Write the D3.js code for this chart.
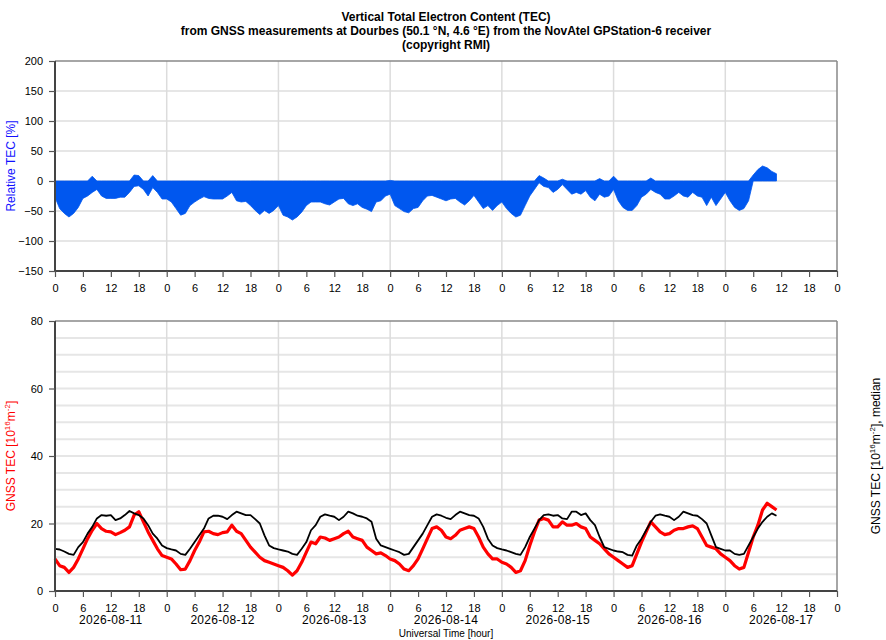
<!DOCTYPE html>
<html>
<head>
<meta charset="utf-8">
<script src="https://cdn.jsdelivr.net/npm/d3@7"></script>
<style>
  body { margin: 0; background: #fff; }
  svg { display: block; font-family: "Liberation Sans", Arial, sans-serif; }
  .axis text { font-size: 11px; fill: #000; }
  .axis line { stroke: #555; stroke-width: 1.2; }
</style>
</head>
<body>
<svg id="chart" width="886" height="640"></svg>
<script>
// hourly readings, hour 0 = 2026-08-11 00 UT
const hours = d3.range(0, 156);

// relative TEC, lower and upper envelope per hour [%]
const relLow = [
  -27,-46,-54,-60,-54,-44,-29,-25,-19,-14,-25,-29,
  -29,-29,-27,-27,-19,-9,-8,-14,-25,-11,-19,-30,
  -30,-35,-46,-57,-54,-41,-35,-30,-26,-29,-30,-30,
  -30,-25,-19,-33,-35,-34,-41,-49,-56,-49,-54,-49,
  -41,-57,-60,-65,-60,-52,-41,-35,-35,-35,-38,-40,
  -35,-30,-29,-38,-41,-38,-44,-47,-51,-35,-33,-25,
  -22,-41,-46,-51,-53,-46,-44,-33,-25,-24,-27,-30,
  -33,-30,-29,-35,-40,-33,-24,-35,-46,-41,-49,-41,
  -35,-46,-54,-60,-57,-41,-25,-14,-3,-9,-11,-19,
  -14,-6,-14,-22,-19,-22,-16,-27,-33,-22,-27,-25,
  -14,-33,-44,-49,-49,-41,-27,-22,-14,-19,-22,-30,
  -30,-25,-19,-25,-27,-19,-25,-27,-41,-27,-41,-30,
  -19,-33,-44,-49,-46,-33,0,0,0,0,0,0
];
const relHigh = [
  0,0,0,0,0,0,0,0,8,0,0,0,
  0,0,0,0,0,10,9,0,0,9,0,0,
  0,0,0,0,0,0,0,0,0,0,0,0,
  0,0,0,0,0,0,0,0,0,0,0,0,
  0,0,0,0,0,0,0,0,0,0,0,0,
  0,0,0,0,0,0,0,0,0,0,0,0,
  1,0,0,0,0,0,0,0,0,0,0,0,
  0,0,0,0,0,0,0,0,0,0,0,0,
  0,0,0,0,0,0,0,0,9,5,0,0,
  0,3,0,0,0,0,0,0,0,4,0,0,
  8,0,0,0,0,0,0,0,5,0,0,0,
  0,0,0,0,0,0,0,0,0,0,0,0,
  0,0,0,0,0,0,10,19,25,22,16,12
];

// GNSS TEC [10^16 m^-2]
const gnssTec = [
  9.5,7.5,7,5.5,7,9.5,12.5,15.5,18,20,18.5,17.7,
  17.5,16.7,17.3,18,19,22.5,23.5,20.5,17.5,15,12.5,10.5,
  10,9.5,8,6.3,6.5,9,12,14.5,17.5,17.7,17,16.7,
  17.3,17.5,19.5,17.7,17,15,13,11.5,10,9,8.5,8,
  7.5,7,6,4.7,6,8.5,11.5,14.5,14,16,15.7,15,
  15.5,16,17,17.7,16,15.5,15,13,12,11,11.3,10.5,
  9.5,9,8,6.5,6,7.5,9.5,12.5,15.5,18.5,19,18,
  16,15.5,16.5,18,18.5,19,18.5,16,13,11,9.5,9.5,
  8.5,8,7,5.5,6,9,13.5,17.5,21,21.5,21,19,
  19,20.5,19.5,19.5,20,19,18.5,16,15,14,12.5,11,
  10,9,8,7,7.5,11,14.5,17.5,20.5,19,17.5,16.7,
  17,18,18.5,18.5,19,19.3,18.5,16,13.5,13,12.5,11,
  10,9,7.5,6.5,7,11.5,16,19.5,24,26,25,24
];

// median GNSS TEC [10^16 m^-2]
const medianTec = [
  12.5,12.3,11.7,11,10.7,13,14.5,17,19,21.5,22.5,22.3,
  22.5,21,21.5,22.5,23.7,23,22.5,21.5,19.5,17,15.5,13.5,
  12.7,12.3,12,11,10.7,12.5,14.5,16.5,18.5,21.5,22.3,22.3,
  22,21.3,22.5,23.5,23,22.5,22.5,21.3,20,16.5,13.5,12.7,
  12.3,12,11.7,11,10.7,12.5,14.5,18,19.5,22,22.7,22.3,
  22,21,22,23.5,23,22.3,22,21.5,20.5,15.5,13.5,13,
  12.5,12,11.5,10.7,11,13,15,17,19.5,22,22.7,22.3,
  21.7,21.3,22.5,23.5,23,22.5,22.3,21.5,19,15.5,13.5,12.7,
  12.3,12,11.5,11,10.7,13,16,18.5,21,22.5,22.7,22.3,
  22.5,21.5,21.3,23.5,23.5,22.5,23,21,19.5,16,13,12.5,
  12,11.7,11.5,10.7,10.5,13.5,15.5,18,20.5,22.3,22.7,22.3,
  22,21,22,23.5,23,22.5,22.3,21.3,20,16.5,13,12.5,
  12,12,11,10.7,11,13.5,16,18.5,20.5,22,23,22.3
];

const dayLabels = ['2026-08-11','2026-08-12','2026-08-13','2026-08-14','2026-08-15','2026-08-16','2026-08-17'];
const relTicks = [-150,-100,-50,0,50,100,150,200];
const tecTicks = [0,20,40,60,80];
const titleLines = [
  'Vertical Total Electron Content (TEC)',
  'from GNSS measurements at Dourbes (50.1 \u00b0N, 4.6 \u00b0E) from the NovAtel GPStation-6 receiver',
  '(copyright RMI)'
];

const svg = d3.select('#chart');
const L = 55, R = 837;
const top1 = { t: 61, b: 271 };
const top2 = { t: 321, b: 591 };

const x = d3.scaleLinear().domain([0, 168]).range([L, R]);
const yRel = d3.scaleLinear().domain([-150, 200]).range([top1.b, top1.t]);
const yTec = d3.scaleLinear().domain([0, 80]).range([top2.b, top2.t]);

// title
svg.append('g').selectAll('text')
  .data(titleLines)
  .join('text')
  .attr('x', (L + R) / 2)
  .attr('y', (d, i) => 21 + i * 14)
  .attr('text-anchor', 'middle')
  .style('font-size', '12px')
  .style('font-weight', 'bold')
  .text(d => d);

function grid(panel, y, yVals) {
  const g = svg.append('g');
  g.selectAll('line.h')
    .data(yVals)
    .join('line')
    .attr('x1', L).attr('x2', R)
    .attr('y1', d => y(d)).attr('y2', d => y(d))
    .attr('stroke', '#e6e6e6')
    .attr('stroke-width', 2);
  g.selectAll('line.v')
    .data(d3.range(24, 168, 24))
    .join('line')
    .attr('x1', d => x(d)).attr('x2', d => x(d))
    .attr('y1', panel.t).attr('y2', panel.b)
    .attr('stroke', '#dcdcdc')
    .attr('stroke-width', 1.5);
}

function frame(panel, y, ticks) {
  const g = svg.append('g');
  g.append('line').attr('x1', L).attr('x2', R).attr('y1', panel.t).attr('y2', panel.t)
    .attr('stroke', '#888').attr('stroke-width', 1.5);
  g.append('line').attr('x1', R).attr('x2', R).attr('y1', panel.t).attr('y2', panel.b)
    .attr('stroke', '#888').attr('stroke-width', 1.5);

  const ax = svg.append('g')
    .attr('class', 'axis')
    .attr('transform', `translate(0, ${panel.b})`)
    .call(d3.axisBottom(x).tickValues(d3.range(0, 169, 6)).tickFormat(d => d % 24).tickSize(6).tickPadding(7));
  ax.select('.domain').remove();

  const ay = svg.append('g')
    .attr('class', 'axis')
    .attr('transform', `translate(${L}, 0)`)
    .call(d3.axisLeft(y).tickValues(ticks).tickSize(6).tickPadding(6));
  ay.select('.domain').remove();

  g.append('line').attr('x1', L).attr('x2', L).attr('y1', panel.t).attr('y2', panel.b + 1)
    .attr('stroke', '#444').attr('stroke-width', 2);
  g.append('line').attr('x1', L).attr('x2', R).attr('y1', panel.b).attr('y2', panel.b)
    .attr('stroke', '#444').attr('stroke-width', 2);
}

// relative TEC panel
grid(top1, yRel, [-100, -50, 0, 50, 100, 150]);

const relArea = d3.area()
  .x(d => x(d))
  .y0(d => yRel(relLow[d]))
  .y1(d => yRel(relHigh[d]));

svg.append('path')
  .datum(hours)
  .attr('d', relArea)
  .attr('fill', '#0057ef')
  .attr('stroke', '#0057ef')
  .attr('stroke-width', 0.8);

frame(top1, yRel, relTicks);

// GNSS TEC panel
grid(top2, yTec, d3.range(5, 80, 5));

const line = arr => d3.line().x(d => x(d)).y(d => yTec(arr[d]));

svg.append('path')
  .datum(hours)
  .attr('d', line(gnssTec))
  .attr('fill', 'none')
  .attr('stroke', '#ff0000')
  .attr('stroke-width', 3.2)
  .attr('stroke-linejoin', 'round');

svg.append('path')
  .datum(hours)
  .attr('d', line(medianTec))
  .attr('fill', 'none')
  .attr('stroke', '#000')
  .attr('stroke-width', 1.8)
  .attr('stroke-linejoin', 'round');

frame(top2, yTec, tecTicks);

// date labels
svg.append('g').selectAll('text')
  .data(dayLabels)
  .join('text')
  .attr('x', (d, i) => x(12 + 24 * i))
  .attr('y', 624)
  .attr('text-anchor', 'middle')
  .style('font-size', '12px')
  .style('letter-spacing', '0.3px')
  .text(d => d);

svg.append('text')
  .attr('x', (L + R) / 2)
  .attr('y', 637)
  .attr('text-anchor', 'middle')
  .style('font-size', '10px')
  .text('Universal Time [hour]');

// axis titles
svg.append('text')
  .attr('transform', `translate(15, ${(top1.t + top1.b) / 2}) rotate(-90)`)
  .attr('text-anchor', 'middle')
  .style('font-size', '12px')
  .attr('fill', '#1010ff')
  .text('Relative TEC [%]');

function tecLabel(sel, suffix) {
  sel.append('tspan').text('GNSS TEC [10');
  sel.append('tspan').attr('dy', -5).style('font-size', '8px').text('16');
  sel.append('tspan').attr('dy', 5).text('m');
  sel.append('tspan').attr('dy', -5).style('font-size', '8px').text('-2');
  sel.append('tspan').attr('dy', 5).text(']' + suffix);
}

svg.append('text')
  .attr('transform', `translate(15, ${(top2.t + top2.b) / 2}) rotate(-90)`)
  .attr('text-anchor', 'middle')
  .style('font-size', '12px')
  .attr('fill', '#ff0000')
  .call(tecLabel, '');

svg.append('text')
  .attr('transform', `translate(880, ${(top2.t + top2.b) / 2}) rotate(-90)`)
  .attr('text-anchor', 'middle')
  .style('font-size', '12px')
  .attr('fill', '#000')
  .call(tecLabel, ', median');
</script>
</body>
</html>
